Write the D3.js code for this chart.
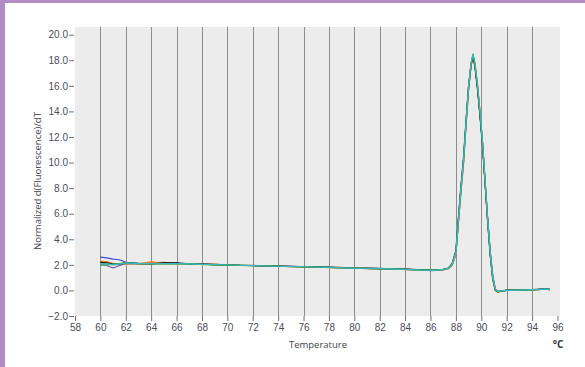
<!DOCTYPE html>
<html>
<head>
<meta charset="utf-8">
<script src="https://cdn.jsdelivr.net/npm/d3@7"></script>
<style>
  body { margin: 0; background: #fff; }
  svg { display: block; font-family: "Open Sans", "DejaVu Sans", sans-serif; }
</style>
</head>
<body>
<svg id="chart" width="585" height="367"></svg>
<script>
// tick labels
var xTicks = [58, 60, 62, 64, 66, 68, 70, 72, 74, 76, 78, 80, 82, 84, 86, 88, 90, 92, 94, 96];
var yTicks = [-2, 0, 2, 4, 6, 8, 10, 12, 14, 16, 18, 20];

// temperatures shared by every well
var temps = [60, 60.5, 61, 61.5, 62, 63, 64, 65, 66, 67, 68, 69, 70, 71, 72, 73, 74, 75, 76, 77, 78, 79, 80, 81, 82, 83, 84, 85, 86,
  86.5, 87, 87.4, 87.7, 88, 88.2, 88.4, 88.6, 88.8, 89, 89.2, 89.35, 89.5, 89.7, 89.9, 90.1, 90.3, 90.5, 90.7, 90.9,
  91.1, 91.3, 91.6, 92, 92.5, 93, 93.5, 94, 94.5, 95, 95.4];

// -dF/dT per well
var wellRed = [2.25, 2.2, 2.1, 2.05, 2.2, 2.1, 2.15, 2.2, 2.1, 2.05, 2.08, 2.0, 2.02, 1.95, 1.97, 1.9, 1.92, 1.86, 1.87, 1.82, 1.8, 1.8, 1.74, 1.76, 1.7, 1.68, 1.66, 1.6, 1.6,
  1.58, 1.62, 1.72, 2.0, 2.9, 5.4, 7.9, 10.1, 13.1, 15.9, 17.7, 18.4, 17.7, 16.0, 13.9, 11.6, 8.4, 5.6, 3.0, 1.1,
  0.05, -0.12, -0.06, 0.0, 0.01, 0.02, 0.04, 0.05, 0.08, 0.1, 0.06];
var wellBlue = [2.6, 2.55, 2.45, 2.4, 2.2, 2.12, 2.08, 2.1, 2.12, 2.06, 2.04, 2.05, 1.98, 1.97, 1.94, 1.93, 1.88, 1.9, 1.84, 1.86, 1.82, 1.77, 1.76, 1.71, 1.72, 1.69, 1.64, 1.63, 1.57,
  1.6, 1.63, 1.7, 1.95, 2.8, 5.3, 7.7, 9.9, 12.9, 15.7, 17.6, 18.3, 17.6, 16.0, 13.7, 11.4, 8.6, 5.7, 3.1, 1.2,
  0.1, -0.1, -0.05, 0.01, 0.0, 0.03, 0.03, 0.06, 0.07, 0.09, 0.07];
var wellGreen = [1.95, 2.0, 2.05, 2.1, 2.15, 2.12, 2.1, 2.08, 2.1, 2.08, 2.03, 2.0, 2.0, 1.96, 1.93, 1.92, 1.9, 1.86, 1.86, 1.83, 1.8, 1.78, 1.73, 1.73, 1.7, 1.67, 1.65, 1.6, 1.59,
  1.6, 1.64, 1.73, 2.05, 3.0, 5.6, 8.0, 10.2, 13.2, 16.0, 17.8, 18.5, 17.8, 16.1, 13.9, 11.5, 8.5, 5.5, 2.9, 1.0,
  0.05, -0.1, -0.04, 0.0, 0.02, 0.02, 0.04, 0.05, 0.07, 0.1, 0.08];
var wellOrange = [2.3, 2.25, 2.1, 2.0, 2.1, 2.05, 2.25, 2.12, 2.06, 2.1, 2.04, 2.06, 1.97, 1.99, 1.93, 1.95, 1.87, 1.88, 1.83, 1.84, 1.79, 1.76, 1.77, 1.72, 1.66, 1.7, 1.63, 1.6, 1.56,
  1.58, 1.61, 1.7, 1.97, 2.85, 5.4, 7.8, 10.0, 13.0, 15.8, 17.6, 18.2, 17.5, 15.8, 13.8, 11.4, 8.4, 5.4, 2.8, 0.9,
  0.0, -0.13, -0.06, 0.0, 0.01, 0.03, 0.04, 0.06, 0.08, 0.1, 0.07];
var wellPurple = [2.1, 1.95, 1.75, 1.95, 2.1, 2.08, 2.1, 2.1, 2.12, 2.05, 2.06, 2.02, 2.0, 1.97, 1.95, 1.9, 1.91, 1.87, 1.84, 1.85, 1.8, 1.79, 1.74, 1.73, 1.71, 1.68, 1.65, 1.6, 1.55,
  1.57, 1.6, 1.7, 1.98, 2.9, 5.5, 7.9, 10.1, 13.0, 15.8, 17.7, 18.4, 17.6, 15.9, 13.8, 11.5, 8.5, 5.6, 3.0, 1.1,
  0.1, -0.1, -0.05, 0.0, 0.02, 0.02, 0.05, 0.06, 0.08, 0.09, 0.07];
var wellYellow = [2.15, 2.1, 2.0, 2.1, 2.12, 2.08, 2.05, 2.1, 2.07, 2.09, 2.02, 2.03, 1.99, 1.96, 1.94, 1.91, 1.89, 1.86, 1.84, 1.83, 1.79, 1.77, 1.74, 1.71, 1.71, 1.67, 1.64, 1.61, 1.58,
  1.59, 1.62, 1.71, 1.99, 2.9, 5.5, 7.9, 10.1, 13.0, 15.9, 17.7, 18.3, 17.6, 16.0, 13.9, 11.5, 8.5, 5.5, 2.9, 1.0,
  0.05, -0.1, -0.05, 0.01, 0.01, 0.03, 0.04, 0.05, 0.07, 0.09, 0.07];
var wellCyan = [2.05, 2.1, 2.0, 2.05, 2.15, 2.1, 2.1, 2.1, 2.09, 2.07, 2.04, 2.01, 1.99, 1.97, 1.94, 1.91, 1.89, 1.87, 1.85, 1.83, 1.8, 1.77, 1.74, 1.72, 1.7, 1.68, 1.64, 1.61, 1.57,
  1.59, 1.62, 1.72, 2.02, 2.95, 5.5, 8.0, 10.2, 13.1, 15.9, 17.8, 18.4, 17.7, 16.1, 14.0, 11.6, 8.6, 5.6, 3.0, 1.1,
  0.08, -0.08, -0.04, 0.01, 0.01, 0.03, 0.04, 0.06, 0.08, 0.1, 0.08];
var wellBlack = [2.2, 2.15, 2.05, 2.05, 2.15, 2.1, 2.08, 2.15, 2.15, 2.08, 2.05, 2.02, 2.0, 1.96, 1.95, 1.92, 1.9, 1.87, 1.85, 1.84, 1.81, 1.78, 1.75, 1.72, 1.7, 1.68, 1.66, 1.62, 1.58,
  1.6, 1.64, 1.75, 2.1, 3.1, 5.7, 8.2, 10.4, 13.3, 16.0, 17.7, 18.3, 17.5, 15.8, 13.6, 11.3, 8.3, 5.4, 2.8, 0.9,
  0.02, -0.1, -0.05, 0.02, 0.02, 0.03, 0.05, 0.06, 0.08, 0.12, 0.1];

var wells = [
  { color: "#e4402c", values: wellRed },
  { color: "#3b4fd4", values: wellBlue },
  { color: "#f08a24", values: wellOrange },
  { color: "#7b4fa8", values: wellPurple },
  { color: "#e3d21e", values: wellYellow },
  { color: "#111111", values: wellBlack },
  { color: "#34b34a", values: wellGreen },
  { color: "#36b9c6", values: wellCyan }
];

var svg = d3.select("#chart");

// purple frame at top and left
svg.append("rect").attr("x", 0).attr("y", 0).attr("width", 585).attr("height", 3).attr("fill", "#b28dc5");
svg.append("rect").attr("x", 0).attr("y", 0).attr("width", 5).attr("height", 367).attr("fill", "#b28dc5");

var plot = { left: 75, right: 560, top: 27, bottom: 316 };

var x = d3.scaleLinear().domain([58, 96.2]).range([plot.left, plot.right]);
var y = d3.scaleLinear().domain([-2, 20.6]).range([plot.bottom, plot.top]);

svg.append("rect")
    .attr("x", plot.left)
    .attr("y", plot.top)
    .attr("width", plot.right - plot.left)
    .attr("height", plot.bottom - plot.top)
    .attr("fill", "#ececec");

// vertical grid
svg.append("g")
  .selectAll("line")
  .data(xTicks.filter(function(d) { return d > 58 && d < 96; }))
  .enter().append("line")
    .attr("x1", function(d) { return Math.round(x(d)) + 0.5; })
    .attr("x2", function(d) { return Math.round(x(d)) + 0.5; })
    .attr("y1", plot.top)
    .attr("y2", plot.bottom)
    .attr("stroke", "#8c8c8c")
    .attr("stroke-width", 1);

var line = d3.line()
    .defined(function(d) { return d[1] != null; })
    .x(function(d) { return x(d[0]); })
    .y(function(d) { return y(d[1]); });

svg.append("g")
  .selectAll("path")
  .data(wells)
  .enter().append("path")
    .attr("fill", "none")
    .attr("stroke", function(d) { return d.color; })
    .attr("stroke-width", 1.2)
    .attr("stroke-linejoin", "round")
    .attr("d", function(d) {
      return line(temps.map(function(t, i) { return [t, d.values[i]]; }));
    });

// axes
var xAxis = svg.append("g")
    .attr("transform", "translate(0," + plot.bottom + ")")
    .call(d3.axisBottom(x).tickValues(xTicks).tickSize(5).tickPadding(3).tickFormat(d3.format("d")));

var yAxis = svg.append("g")
    .attr("transform", "translate(" + (plot.left - 1) + ",0)")
    .call(d3.axisLeft(y).tickValues(yTicks).tickSize(5).tickPadding(1).tickFormat(d3.format(".1f")));

[xAxis, yAxis].forEach(function(g) {
  g.select(".domain").remove();
  g.selectAll(".tick line").attr("stroke", "#6e6e6e");
  g.selectAll(".tick text").attr("fill", "#4a4d5a").style("font-size", "10px");
});

svg.append("text")
    .attr("x", 318)
    .attr("y", 348)
    .attr("text-anchor", "middle")
    .attr("fill", "#3d3f4a")
    .style("font-size", "9.5px")
    .text("Temperature");

svg.append("text")
    .attr("x", 558)
    .attr("y", 348)
    .attr("text-anchor", "middle")
    .attr("fill", "#2f3140")
    .style("font-size", "10px")
    .style("font-weight", "bold")
    .text("°C");

svg.append("text")
    .attr("transform", "translate(41,181) rotate(-90)")
    .attr("text-anchor", "middle")
    .attr("fill", "#3d3f4a")
    .style("font-size", "9.5px")
    .text("Normalized d(Fluorescence)/dT");
</script>
</body>
</html>
